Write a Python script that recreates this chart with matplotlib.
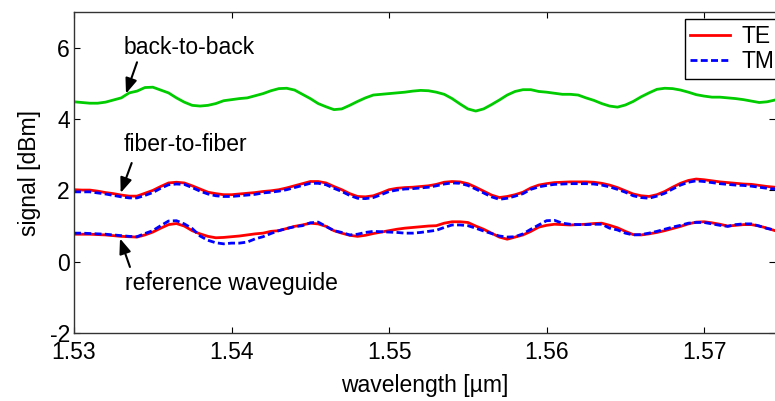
import matplotlib
matplotlib.use("Agg")
import matplotlib.pyplot as plt

plt.rcParams['font.family'] = ['Liberation Sans', 'DejaVu Sans']
plt.rcParams['axes.unicode_minus'] = False

# wavelength grid [um], one row per 0.0025 um
wavelength = [1.5300, 1.5305, 1.5310, 1.5315, 1.5320, 1.5325, 1.5330, 1.5335, 1.5340, 1.5345,
              1.5350, 1.5355, 1.5360, 1.5365, 1.5370, 1.5375, 1.5380, 1.5385, 1.5390, 1.5395,
              1.5400, 1.5405, 1.5410, 1.5415, 1.5420, 1.5425, 1.5430, 1.5435, 1.5440, 1.5445,
              1.5450, 1.5455, 1.5460, 1.5465, 1.5470, 1.5475, 1.5480, 1.5485, 1.5490, 1.5495,
              1.5500, 1.5505, 1.5510, 1.5515, 1.5520, 1.5525, 1.5530, 1.5535, 1.5540, 1.5545,
              1.5550, 1.5555, 1.5560, 1.5565, 1.5570, 1.5575, 1.5580, 1.5585, 1.5590, 1.5595,
              1.5600, 1.5605, 1.5610, 1.5615, 1.5620, 1.5625, 1.5630, 1.5635, 1.5640, 1.5645,
              1.5650, 1.5655, 1.5660, 1.5665, 1.5670, 1.5675, 1.5680, 1.5685, 1.5690, 1.5695,
              1.5700, 1.5705, 1.5710, 1.5715, 1.5720, 1.5725, 1.5730, 1.5735, 1.5740, 1.5745]

back_to_back = [4.49, 4.47, 4.45, 4.45, 4.48, 4.54, 4.60, 4.74, 4.79, 4.89,
                4.90, 4.82, 4.74, 4.60, 4.48, 4.39, 4.37, 4.39, 4.44, 4.52,
                4.55, 4.58, 4.60, 4.66, 4.72, 4.80, 4.86, 4.87, 4.82, 4.70,
                4.58, 4.44, 4.35, 4.27, 4.29, 4.39, 4.50, 4.60, 4.68, 4.70,
                4.72, 4.74, 4.76, 4.79, 4.81, 4.80, 4.76, 4.70, 4.58, 4.43,
                4.29, 4.23, 4.29, 4.41, 4.54, 4.68, 4.78, 4.83, 4.83, 4.78,
                4.76, 4.73, 4.70, 4.70, 4.68, 4.60, 4.53, 4.44, 4.37, 4.34,
                4.40, 4.50, 4.63, 4.74, 4.84, 4.87, 4.86, 4.82, 4.76, 4.69,
                4.65, 4.62, 4.62, 4.60, 4.58, 4.55, 4.51, 4.47, 4.49, 4.54]

fiber_te = [2.02, 2.01, 2.01, 1.98, 1.94, 1.91, 1.87, 1.84, 1.84, 1.92,
            2.00, 2.11, 2.21, 2.23, 2.21, 2.13, 2.04, 1.95, 1.91, 1.88,
            1.88, 1.90, 1.92, 1.94, 1.97, 1.99, 2.02, 2.07, 2.13, 2.19,
            2.25, 2.25, 2.21, 2.11, 2.02, 1.91, 1.83, 1.82, 1.85, 1.93,
            2.02, 2.06, 2.08, 2.09, 2.11, 2.13, 2.17, 2.23, 2.25, 2.24,
            2.19, 2.09, 1.98, 1.87, 1.80, 1.83, 1.88, 1.95, 2.07, 2.15,
            2.19, 2.22, 2.23, 2.24, 2.24, 2.24, 2.23, 2.20, 2.15, 2.08,
            1.99, 1.90, 1.85, 1.83, 1.88, 1.97, 2.09, 2.20, 2.28, 2.32,
            2.30, 2.27, 2.24, 2.22, 2.20, 2.18, 2.17, 2.14, 2.11, 2.09]

fiber_tm = [1.96, 1.96, 1.96, 1.93, 1.90, 1.86, 1.82, 1.79, 1.79, 1.86,
            1.94, 2.06, 2.16, 2.18, 2.17, 2.08, 1.98, 1.90, 1.85, 1.83,
            1.83, 1.85, 1.87, 1.89, 1.93, 1.95, 1.98, 2.02, 2.08, 2.14,
            2.20, 2.20, 2.16, 2.06, 1.97, 1.86, 1.78, 1.77, 1.80, 1.88,
            1.97, 2.01, 2.04, 2.05, 2.07, 2.09, 2.13, 2.18, 2.21, 2.20,
            2.14, 2.04, 1.93, 1.82, 1.75, 1.78, 1.84, 1.91, 2.03, 2.10,
            2.14, 2.17, 2.18, 2.19, 2.19, 2.19, 2.18, 2.15, 2.10, 2.03,
            1.95, 1.85, 1.80, 1.78, 1.84, 1.92, 2.04, 2.15, 2.23, 2.27,
            2.25, 2.22, 2.19, 2.17, 2.15, 2.14, 2.12, 2.09, 2.06, 2.04]

ref_te = [0.77, 0.77, 0.77, 0.76, 0.75, 0.73, 0.71, 0.70, 0.69, 0.75,
          0.83, 0.94, 1.04, 1.07, 1.00, 0.87, 0.78, 0.71, 0.67, 0.68,
          0.70, 0.72, 0.75, 0.78, 0.80, 0.85, 0.87, 0.93, 0.99, 1.03,
          1.08, 1.06, 0.99, 0.87, 0.80, 0.74, 0.71, 0.74, 0.79, 0.83,
          0.87, 0.91, 0.94, 0.96, 0.98, 1.00, 1.01, 1.08, 1.12, 1.12,
          1.10, 1.00, 0.91, 0.80, 0.69, 0.63, 0.69, 0.75, 0.85, 0.97,
          1.02, 1.05, 1.04, 1.03, 1.04, 1.05, 1.07, 1.08, 1.02, 0.95,
          0.85, 0.76, 0.75, 0.78, 0.82, 0.87, 0.93, 0.99, 1.06, 1.11,
          1.12, 1.09, 1.05, 1.00, 1.02, 1.04, 1.04, 1.00, 0.94, 0.87]

ref_tm = [0.80, 0.80, 0.79, 0.78, 0.77, 0.75, 0.73, 0.71, 0.70, 0.79,
          0.87, 1.01, 1.14, 1.15, 1.06, 0.93, 0.72, 0.60, 0.53, 0.50,
          0.52, 0.52, 0.55, 0.64, 0.70, 0.79, 0.87, 0.93, 0.98, 1.01,
          1.09, 1.11, 0.99, 0.87, 0.82, 0.75, 0.77, 0.82, 0.85, 0.84,
          0.83, 0.82, 0.80, 0.80, 0.82, 0.85, 0.88, 0.96, 1.03, 1.03,
          1.01, 0.94, 0.86, 0.79, 0.72, 0.69, 0.70, 0.78, 0.91, 1.03,
          1.15, 1.16, 1.08, 1.05, 1.04, 1.04, 1.05, 1.05, 0.94, 0.89,
          0.80, 0.75, 0.76, 0.80, 0.85, 0.91, 0.97, 1.02, 1.08, 1.10,
          1.10, 1.06, 1.02, 0.99, 1.04, 1.06, 1.06, 1.00, 0.93, 0.89]

x_ticks = [1.53, 1.54, 1.55, 1.56, 1.57]
y_ticks = [-2, 0, 2, 4, 6]

FS = 16.5
TM_DASH = (0, (2.5, 1.2))

fig = plt.figure(figsize=(7.75, 4.01), dpi=100)
ax = fig.add_axes([0.0955, 0.170, 0.9045, 0.799])

ax.plot(wavelength, back_to_back, color='#00cc00', lw=2.0)
te_line, = ax.plot(wavelength, fiber_te, color='#ff0000', lw=2.0, label='TE')
tm_line, = ax.plot(wavelength, fiber_tm, color='#0000ff', lw=2.0,
                   ls=TM_DASH, label='TM')
ax.plot(wavelength, ref_te, color='#ff0000', lw=2.0)
ax.plot(wavelength, ref_tm, color='#0000ff', lw=2.0, ls=TM_DASH)

ax.set_xlim(1.53, 1.5745)
ax.set_ylim(-2, 7)
ax.set_xticks(x_ticks)
ax.set_xticklabels([f"{t:.2f}" for t in x_ticks])
ax.set_yticks(y_ticks)
ax.tick_params(direction='in', top=True, right=True, length=4, width=0.8,
               labelsize=FS)
ax.tick_params(axis='x', pad=6)
ax.tick_params(axis='y', pad=3)
for s in ax.spines.values():
    s.set_color('#333333')
    s.set_linewidth(1.0)
ax.spines['right'].set_visible(False)

ax.set_xlabel('wavelength [µm]', fontsize=FS, labelpad=7)
ax.set_ylabel('signal [dBm]', fontsize=FS, labelpad=6)

arrow = dict(arrowstyle='-|>,head_length=0.9,head_width=0.35', color='k',
             lw=1.5, shrinkA=0, shrinkB=0)
ax.text(1.53317, 5.82, 'back-to-back', fontsize=FS, va='baseline')
ax.annotate('', xy=(1.5333, 4.72), xytext=(1.5340, 5.60), arrowprops=arrow)
ax.text(1.53313, 3.10, 'fiber-to-fiber', fontsize=FS, va='baseline')
ax.annotate('', xy=(1.53296, 1.93), xytext=(1.53366, 2.77), arrowprops=arrow)
ax.text(1.53323, -0.80, 'reference waveguide', fontsize=FS, va='baseline')
ax.annotate('', xy=(1.53292, 0.65), xytext=(1.53355, -0.15), arrowprops=arrow)

leg = ax.legend(handles=[te_line, tm_line], loc='upper left',
                bbox_to_anchor=(0.871, 0.979), borderaxespad=0,
                fontsize=FS, handlelength=1.75, handletextpad=0.5,
                labelspacing=0.1, borderpad=0.25, fancybox=False,
                framealpha=1, edgecolor='k')
leg.get_frame().set_linewidth(1.0)

fig.savefig('out.png', dpi=100)
